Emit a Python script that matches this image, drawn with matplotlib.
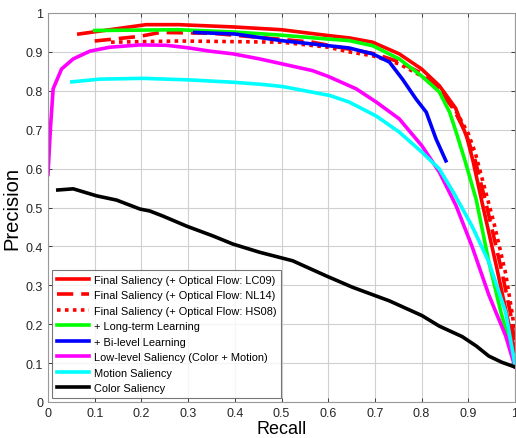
import matplotlib
matplotlib.use("Agg")
import matplotlib.pyplot as plt

plt.rcParams['font.family'] = ['Liberation Sans', 'DejaVu Sans']

# Final Saliency (+ Optical Flow: LC09)
lc09_x = [0.066, 0.21, 0.28, 0.40, 0.50, 0.60, 0.645, 0.695, 0.752, 0.80, 0.838, 0.873, 0.897, 0.91, 0.93, 0.96, 0.985, 1.0]
lc09_y = [0.946, 0.970, 0.970, 0.964, 0.957, 0.942, 0.936, 0.925, 0.895, 0.856, 0.813, 0.755, 0.680, 0.620, 0.510, 0.350, 0.210, 0.130]
# Final Saliency (+ Optical Flow: NL14)
nl14_x = [0.10, 0.197, 0.24, 0.35, 0.474, 0.566, 0.645, 0.70, 0.75, 0.80, 0.84, 0.87, 0.895, 0.915, 0.94, 0.97, 0.99, 1.0]
nl14_y = [0.928, 0.940, 0.950, 0.948, 0.935, 0.925, 0.907, 0.895, 0.875, 0.845, 0.800, 0.750, 0.690, 0.620, 0.500, 0.345, 0.230, 0.150]
# Final Saliency (+ Optical Flow: HS08)
hs08_x = [0.135, 0.28, 0.50, 0.60, 0.645, 0.695, 0.752, 0.80, 0.84, 0.875, 0.90, 0.915, 0.935, 0.955, 0.98, 0.995, 1.0]
hs08_y = [0.925, 0.928, 0.925, 0.912, 0.900, 0.890, 0.869, 0.838, 0.800, 0.745, 0.690, 0.640, 0.550, 0.460, 0.330, 0.220, 0.165]
# + Long-term Learning
lt_x = [0.10, 0.28, 0.40, 0.50, 0.60, 0.645, 0.695, 0.752, 0.80, 0.838, 0.86, 0.875, 0.893, 0.917, 0.944, 0.97, 1.0]
lt_y = [0.955, 0.957, 0.951, 0.943, 0.933, 0.929, 0.916, 0.882, 0.838, 0.797, 0.745, 0.690, 0.620, 0.520, 0.360, 0.230, 0.100]
# + Bi-level Learning
bi_x = [0.314, 0.40, 0.50, 0.60, 0.645, 0.695, 0.731, 0.759, 0.788, 0.81, 0.831, 0.852]
bi_y = [0.950, 0.946, 0.929, 0.916, 0.910, 0.895, 0.874, 0.830, 0.779, 0.745, 0.676, 0.620]
# Low-level Saliency (Color + Motion)
low_x = [0.0, 0.005, 0.011, 0.029, 0.054, 0.09, 0.132, 0.197, 0.254, 0.303, 0.346, 0.396, 0.453, 0.502, 0.566, 0.60, 0.66, 0.703, 0.752, 0.801, 0.838, 0.874, 0.908, 0.944, 0.98, 1.0]
low_y = [0.585, 0.70, 0.805, 0.856, 0.882, 0.902, 0.912, 0.918, 0.917, 0.910, 0.902, 0.895, 0.882, 0.869, 0.852, 0.837, 0.805, 0.771, 0.728, 0.658, 0.591, 0.504, 0.400, 0.275, 0.170, 0.090]
# Motion Saliency
mot_x = [0.051, 0.111, 0.203, 0.303, 0.396, 0.453, 0.502, 0.603, 0.645, 0.703, 0.752, 0.80, 0.838, 0.870, 0.908, 0.944, 0.98, 1.0]
mot_y = [0.823, 0.830, 0.832, 0.828, 0.822, 0.817, 0.811, 0.788, 0.771, 0.735, 0.694, 0.643, 0.599, 0.535, 0.452, 0.360, 0.231, 0.095]
# Color Saliency
col_x = [0.021, 0.054, 0.104, 0.147, 0.197, 0.218, 0.246, 0.297, 0.353, 0.396, 0.453, 0.524, 0.596, 0.652, 0.731, 0.801, 0.838, 0.887, 0.917, 0.944, 0.972, 1.0]
col_y = [0.545, 0.548, 0.530, 0.519, 0.496, 0.491, 0.478, 0.452, 0.427, 0.406, 0.385, 0.363, 0.324, 0.295, 0.260, 0.222, 0.195, 0.168, 0.144, 0.118, 0.102, 0.090]

labels = [
    'Final Saliency (+ Optical Flow: LC09)',
    'Final Saliency (+ Optical Flow: NL14)',
    'Final Saliency (+ Optical Flow: HS08)',
    '+ Long-term Learning',
    '+ Bi-level Learning',
    'Low-level Saliency (Color + Motion)',
    'Motion Saliency',
    'Color Saliency',
]
ticks = [0, 0.1, 0.2, 0.3, 0.4, 0.5, 0.6, 0.7, 0.8, 0.9, 1]
tick_labels = ['0', '0.1', '0.2', '0.3', '0.4', '0.5', '0.6', '0.7', '0.8', '0.9', '1']

fig = plt.figure(figsize=(5.16, 4.39), dpi=100)
ax = fig.add_axes([48/516, 36/439, 467/516, 389/439])

lw = 2.6
ax.plot(lc09_x, lc09_y, color='#ff0000', lw=lw, label=labels[0])
ax.plot(nl14_x, nl14_y, color='#ff0000', lw=lw, ls=(0, (4.5, 2.2)), label=labels[1])
ax.plot(hs08_x, hs08_y, color='#ff0000', lw=lw, ls=(0, (1.0, 1.2)), label=labels[2])
ax.plot(lt_x, lt_y, color='#00ff00', lw=lw, label=labels[3])
ax.plot(bi_x, bi_y, color='#0000ff', lw=lw, label=labels[4])
ax.plot(low_x, low_y, color='#ff00ff', lw=lw, label=labels[5])
ax.plot(mot_x, mot_y, color='#00ffff', lw=lw, label=labels[6])
ax.plot(col_x, col_y, color='#000000', lw=lw, label=labels[7])

ax.set_xlim(0, 1)
ax.set_ylim(0, 1)
ax.set_xticks(ticks)
ax.set_xticklabels(tick_labels)
ax.set_yticks(ticks)
ax.set_yticklabels(tick_labels)
ax.tick_params(direction='in', length=3, width=0.6, labelsize=9, top=True, right=True, colors='#262626', labelcolor='#262626')
ax.grid(True, color='#d0d0d0', lw=0.8)
ax.set_axisbelow(True)
for s in ax.spines.values():
    s.set_color('#999999')
    s.set_linewidth(0.8)

ax.set_xlabel('Recall', fontsize=13, labelpad=1)
ax.set_ylabel('Precision', fontsize=14.5, labelpad=3)

leg = ax.legend(loc='lower left', fontsize=7.9, frameon=True, fancybox=False,
                edgecolor='#555555', handlelength=2.9, handletextpad=0.45,
                labelspacing=0.5, borderpad=0.45, borderaxespad=0.35)
leg.get_frame().set_linewidth(0.8)

fig.savefig('out.png', dpi=100)
